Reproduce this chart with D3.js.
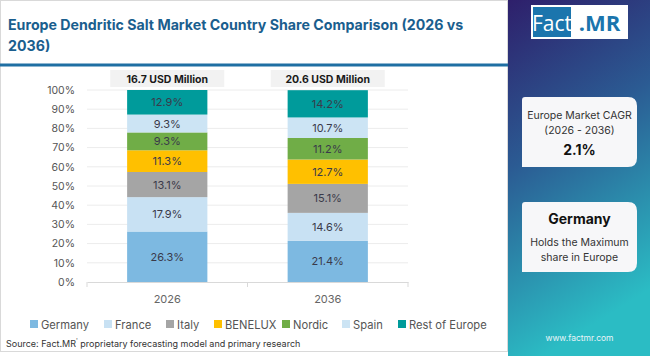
<!DOCTYPE html>
<html><head><meta charset="utf-8">
<script src="https://cdn.jsdelivr.net/npm/d3@7"></script>
<style>
html,body{margin:0;padding:0;background:#fff;}
svg{display:block;font-family:"Inter","Noto Sans",sans-serif;}
</style></head>
<body><svg id="c" width="650" height="356"></svg>
<script>
const years = ["2026", "2036"];
const totals = ["16.7 USD Million", "20.6 USD Million"];
const countries = ["Germany", "France", "Italy", "BENELUX", "Nordic", "Spain", "Rest of Europe"];
const share2026 = [26.3, 17.9, 13.1, 11.3, 9.3, 9.3, 12.9];
const share2036 = [21.4, 14.6, 15.1, 12.7, 11.2, 10.7, 14.2];
const colors = ["#7db9e1", "#c8e1f3", "#a5a5a5", "#ffc000", "#70ad47", "#cce4f4", "#009b9b"];
const yTicks = [0,10,20,30,40,50,60,70,80,90,100];

const ff="Inter, 'Noto Sans', sans-serif";
const svg = d3.select("#c");
const defs = svg.append("defs");
const g1 = defs.append("linearGradient").attr("id","side").attr("x1","0").attr("y1","0").attr("x2","0.25").attr("y2","1");
g1.append("stop").attr("offset","0").attr("stop-color","#2e1f6b");
g1.append("stop").attr("offset","0.45").attr("stop-color","#2b5b93");
g1.append("stop").attr("offset","1").attr("stop-color","#2bbcc4");

// side panel
svg.append("rect").attr("x",508).attr("y",0).attr("width",142).attr("height",356).attr("fill","url(#side)");
// card
svg.append("rect").attr("x",0.5).attr("y",0.5).attr("width",507).attr("height",351).attr("fill","#fff").attr("stroke","#d9d9d9");

// title
const title = svg.append("text").attr("fill","#1a5e8e").attr("font-weight",700).attr("font-size",14.2)
  .attr("font-family",ff);
title.append("tspan").attr("x",8).attr("y",30).text("Europe Dendritic Salt Market Country Share Comparison (2026 vs");
title.append("tspan").attr("x",8).attr("y",51).text("2036)");
svg.append("rect").attr("x",0).attr("y",63.5).attr("width",508).attr("height",3).attr("fill","#1f6fa3");

// scales
const x = d3.scaleBand().domain(years).range([87,408]).paddingInner(0.5).paddingOuter(0.25);
const y = d3.scaleLinear().domain([0,100]).range([282,90]);

// gridlines
svg.append("g").selectAll("line").data(yTicks.slice(1)).join("line")
  .attr("x1",87).attr("x2",408).attr("y1",d=>y(d)).attr("y2",d=>y(d))
  .attr("stroke","#ececec").attr("stroke-width",1);

// y axis
const ya = svg.append("g").attr("transform","translate(87,0)")
  .call(d3.axisLeft(y).tickValues(yTicks).tickFormat(d=>d+"%").tickSize(0).tickPadding(12));
ya.select(".domain").remove();
ya.selectAll("text").attr("font-size",10.5).attr("fill","#555").attr("font-family",ff);

// x axis
const xa = svg.append("g").attr("transform","translate(0,282)")
  .call(d3.axisBottom(x).tickSize(0).tickPadding(13));
xa.select(".domain").attr("stroke","#d9d9d9");
xa.selectAll("text").attr("font-size",11).attr("fill","#666").attr("font-family",ff);
svg.append("g").selectAll("line").data([87,247.5,408]).join("line")
  .attr("x1",d=>d).attr("x2",d=>d).attr("y1",282).attr("y2",287).attr("stroke","#d9d9d9");

// stacked bars
const rows = years.map((yr,i)=>{ const o={year:yr}; countries.forEach((c,j)=>o[c]=(i===0?share2026:share2036)[j]); return o;});
const stack = d3.stack().keys(countries)(rows);
const layers = svg.append("g").selectAll("g").data(stack).join("g").attr("fill",(d,i)=>colors[i]);
layers.selectAll("rect").data(d=>d).join("rect")
  .attr("x",d=>x(d.data.year)).attr("width",x.bandwidth())
  .attr("y",d=>y(Math.min(d[1],100))).attr("height",d=>y(d[0])-y(Math.min(d[1],100)));
layers.selectAll("text").data(d=>d.map(v=>({key:d.key,v}))).join("text")
  .attr("x",d=>x(d.v.data.year)+x.bandwidth()/2)
  .attr("y",d=>(y(d.v[0])+y(Math.min(d.v[1],100)))/2+4)
  .attr("text-anchor","middle").attr("font-size",11).attr("fill","#3a3a4a")
  .attr("font-family",ff)
  .text(d=>d.v.data[d.key].toFixed(1)+"%");

// totals header
const hdr = svg.append("g").selectAll("g").data(years).join("g");
hdr.append("rect").attr("x",d=>x(d)+x.bandwidth()/2-57).attr("y",70).attr("width",114).attr("height",17).attr("fill","#f2f2f2");
hdr.append("text").attr("x",d=>x(d)+x.bandwidth()/2).attr("y",82.5).attr("text-anchor","middle")
  .attr("font-size",10.5).attr("font-weight",700).attr("fill","#1a1a1a")
  .attr("font-family",ff)
  .text((d,i)=>totals[i]);

// legend
const legX = [30,104,166,214,282,342,398];
const leg = svg.append("g").selectAll("g").data(countries).join("g")
  .attr("transform",(d,i)=>`translate(${legX[i]},320)`);
leg.append("rect").attr("width",8).attr("height",8).attr("fill",(d,i)=>colors[i]);
leg.append("text").attr("x",11).attr("y",8.5).attr("font-size",11.2).attr("fill","#555")
  .attr("font-family",ff).text(d=>d);

// source
const src = svg.append("text").attr("x",6).attr("y",347).attr("font-size",9).attr("fill","#333")
  .attr("font-family",ff);
src.append("tspan").text("Source: Fact.MR");
src.append("tspan").attr("font-size",6).attr("dy",-4).text("'");
src.append("tspan").attr("dy",4).text(" proprietary forecasting model and primary research");

// logo
svg.append("rect").attr("x",531).attr("y",5).attr("width",97).attr("height",34).attr("fill","#fff");
svg.append("rect").attr("x",533).attr("y",7).attr("width",38).attr("height",30).attr("fill","#1b75ad");
svg.append("text").attr("x",552).attr("y",30.5).attr("text-anchor","middle").attr("font-size",21).attr("fill","#fff")
  .attr("font-family","'Open Sans', sans-serif").text("Fact");
svg.append("text").attr("x",599.5).attr("y",30.5).attr("text-anchor","middle").attr("font-size",22).attr("font-weight",700).attr("fill","#1b75ad")
  .attr("font-family","'Open Sans', sans-serif").text(".MR");

// info boxes
function box(y0,h){
  const x0=522,w=115,r=9;
  const p=`M${x0+3},${y0} H${x0+w-r} Q${x0+w},${y0} ${x0+w},${y0+r} V${y0+h-r} Q${x0+w},${y0+h} ${x0+w-r},${y0+h} H${x0} V${y0+3} Q${x0},${y0} ${x0+3},${y0} Z`;
  svg.append("path").attr("d",p).attr("fill","#f7f7f9");
}
box(97,70); box(202,70);
svg.append("text").attr("x",579.5).attr("y",119).attr("text-anchor","middle").attr("font-size",10.5).attr("fill","#333").attr("font-family",ff).text("Europe Market CAGR");
svg.append("text").attr("x",579.5).attr("y",134).attr("text-anchor","middle").attr("font-size",10.5).attr("fill","#333").attr("font-family",ff).text("(2026 - 2036)");
svg.append("text").attr("x",579.5).attr("y",155).attr("text-anchor","middle").attr("font-size",14).attr("font-weight",700).attr("fill","#111").attr("font-family",ff).text("2.1%");
svg.append("text").attr("x",579.5).attr("y",224).attr("text-anchor","middle").attr("font-size",14).attr("font-weight",700).attr("fill","#111").attr("font-family",ff).text("Germany");
svg.append("text").attr("x",579.5).attr("y",246).attr("text-anchor","middle").attr("font-size",10.5).attr("fill","#333").attr("font-family",ff).text("Holds the Maximum");
svg.append("text").attr("x",579.5).attr("y",261).attr("text-anchor","middle").attr("font-size",10.5).attr("fill","#333").attr("font-family",ff).text("share in Europe");
svg.append("text").attr("x",579.5).attr("y",341).attr("text-anchor","middle").attr("font-size",8.5).attr("fill","#e8f4f8").attr("font-family",ff).text("www.factmr.com");
</script></body></html>
